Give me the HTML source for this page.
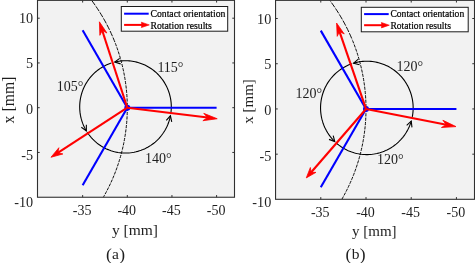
<!DOCTYPE html>
<html><head><meta charset="utf-8"><title>Contact orientation and rotation results</title>
<style>
html,body{margin:0;padding:0;background:#fff;}
body{width:475px;height:263px;overflow:hidden;}
svg{display:block;font-family:"Liberation Serif","Times New Roman",serif;}
</style></head><body>
<svg width="475" height="263" viewBox="0 0 475 263">
<rect width="475" height="263" fill="#fff"/>
<clipPath id="clipa"><rect x="37.5" y="0.35" width="197" height="196.9"/></clipPath>
<rect x="37.5" y="0.35" width="197" height="196.9" fill="#f2f2f2"/>
<clipPath id="clipTa"><rect x="37.5" y="0.35" width="197" height="39.65"/></clipPath>
<clipPath id="clipBa"><rect x="37.5" y="40" width="197" height="157.25"/></clipPath>
<ellipse cx="-51.3" cy="107.7" rx="178.6" ry="179" fill="none" stroke="#000" stroke-width="0.95" stroke-dasharray="5.8 1.3" clip-path="url(#clipTa)"/>
<ellipse cx="-51.3" cy="107.7" rx="178.6" ry="179" fill="none" stroke="#000" stroke-width="0.95" stroke-dasharray="3.2 1.15" clip-path="url(#clipBa)"/>
<polyline points="170.96,112.52 171.11,111.05 171.22,109.57 171.28,108.08 171.3,106.6 171.27,105.11 171.19,103.63 171.06,102.15 170.88,100.68 170.66,99.21 170.39,97.75 170.08,96.3 169.71,94.86 169.31,93.44 168.85,92.02 168.36,90.62 167.82,89.24 167.23,87.88 166.6,86.54 165.93,85.22 165.22,83.92 164.46,82.64 163.67,81.39 162.83,80.17 161.96,78.97 161.05,77.8 160.1,76.67 159.12,75.56 158.1,74.49 157.05,73.45 155.97,72.44 154.85,71.47 153.71,70.54 152.53,69.64 151.33,68.79 150.1,67.97 148.84,67.19 147.56,66.46 146.26,65.76 144.94,65.11 143.59,64.5 142.23,63.94 140.85,63.42 139.45,62.94 138.04,62.51 136.62,62.13 135.18,61.79 133.74,61.5 132.29,61.26 130.82,61.06 129.36,60.91 127.89,60.81 126.42,60.76 124.94,60.75 123.47,60.8 122,60.88 120.53,61.02 119.07,61.21 117.62,61.44 116.17,61.72 114.73,62.04" fill="none" stroke="#000" stroke-width="1.1"/>
<polyline points="120.65,63.89 114.73,62.04 119.7,58.34" fill="none" stroke="#000" stroke-width="1.1" stroke-linejoin="miter"/>
<polyline points="111.35,63.01 110.04,63.46 108.76,63.94 107.48,64.47 106.23,65.04 104.99,65.64 103.77,66.28 102.56,66.95 101.38,67.67 100.22,68.41 99.09,69.2 97.98,70.01 96.89,70.86 95.83,71.75 94.79,72.66 93.79,73.6 92.81,74.58 91.86,75.58 90.94,76.62 90.05,77.68 89.2,78.76 88.37,79.87 87.59,81.01 86.83,82.17 86.11,83.35 85.43,84.56 84.78,85.78 84.17,87.02 83.59,88.28 83.06,89.56 82.56,90.85 82.1,92.16 81.68,93.48 81.3,94.81 80.96,96.16 80.66,97.51 80.4,98.87 80.18,100.24 80,101.61 79.86,102.99 79.77,104.38 79.71,105.76 79.7,107.15 79.73,108.54 79.8,109.92 79.91,111.3 80.06,112.68 80.25,114.05 80.49,115.42 80.76,116.78 81.08,118.13 81.43,119.47 81.83,120.8 82.26,122.11 82.73,123.42 83.25,124.7 83.8,125.97 84.38,127.23 85.01,128.46 85.67,129.68 86.37,130.88" fill="none" stroke="#000" stroke-width="1.1"/>
<polyline points="86.35,124.68 86.37,130.88 81.34,127.24" fill="none" stroke="#000" stroke-width="1.1" stroke-linejoin="miter"/>
<polyline points="87.09,132.04 88.1,133.55 89.18,135.01 90.31,136.44 91.5,137.82 92.74,139.15 94.03,140.43 95.37,141.65 96.75,142.83 98.18,143.94 99.66,145 101.17,146 102.72,146.94 104.31,147.82 105.93,148.63 107.59,149.37 109.27,150.05 110.97,150.67 112.7,151.21 114.45,151.69 116.21,152.09 117.99,152.43 119.78,152.69 121.58,152.88 123.39,153 125.2,153.05 127.01,153.02 128.82,152.93 130.62,152.76 132.42,152.52 134.2,152.21 135.97,151.83 137.72,151.38 139.46,150.85 141.17,150.26 142.86,149.61 144.52,148.88 146.15,148.09 147.75,147.24 149.32,146.32 150.85,145.34 152.33,144.3 153.78,143.2 155.18,142.05 156.54,140.84 157.84,139.58 159.1,138.26 160.3,136.9 161.45,135.49 162.55,134.04 163.58,132.54 164.56,131 165.47,129.43 166.32,127.82 167.11,126.18 167.84,124.51 168.49,122.81 169.08,121.08 169.61,119.33 170.06,117.57 170.44,115.78" fill="none" stroke="#000" stroke-width="1.1"/>
<polyline points="166.29,120.39 170.44,115.78 171.73,121.85" fill="none" stroke="#000" stroke-width="1.1" stroke-linejoin="miter"/>
<line x1="127.3" y1="107.7" x2="216.6" y2="107.7" stroke="#0000ff" stroke-width="2.1" stroke-linecap="butt"/>
<line x1="127.3" y1="107.7" x2="82.65" y2="30.19" stroke="#0000ff" stroke-width="2.1" stroke-linecap="butt"/>
<line x1="127.3" y1="107.7" x2="82.65" y2="185.21" stroke="#0000ff" stroke-width="2.1" stroke-linecap="butt"/>
<circle cx="127.3" cy="107.7" r="3" fill="#0000ff"/>
<line x1="127.3" y1="107.7" x2="207.69" y2="117.57" stroke="#ff0000" stroke-width="2.1"/>
<polygon points="217.22,118.74 202.88,120.71 207.5,117.55 203.78,113.36" fill="#ff0000" stroke="#ff0000" stroke-width="0.8" stroke-linejoin="miter"/>
<line x1="127.3" y1="107.7" x2="102.15" y2="30.3" stroke="#ff0000" stroke-width="2.1"/>
<polygon points="99.4,21.82 106.93,33.04 102.21,30.47 99.89,35.33" fill="#ff0000" stroke="#ff0000" stroke-width="0.8" stroke-linejoin="miter"/>
<line x1="127.3" y1="107.7" x2="57.77" y2="152.85" stroke="#ff0000" stroke-width="2.1"/>
<polygon points="50.98,157.26 58.86,147.73 57.91,152.76 62.89,153.94" fill="#ff0000" stroke="#ff0000" stroke-width="0.8" stroke-linejoin="miter"/>
<rect x="37.5" y="0.35" width="197" height="196.9" fill="none" stroke="#303030" stroke-width="1.1"/>
<line x1="82.65" y1="197.25" x2="82.65" y2="195.05" stroke="#303030" stroke-width="1"/>
<line x1="82.65" y1="0.35" x2="82.65" y2="2.55" stroke="#303030" stroke-width="1"/>
<text x="82.15" y="215.3" font-size="14" text-anchor="middle" fill="#1e1e1e">-35</text>
<line x1="127.3" y1="197.25" x2="127.3" y2="195.05" stroke="#303030" stroke-width="1"/>
<line x1="127.3" y1="0.35" x2="127.3" y2="2.55" stroke="#303030" stroke-width="1"/>
<text x="126.8" y="215.3" font-size="14" text-anchor="middle" fill="#1e1e1e">-40</text>
<line x1="171.95" y1="197.25" x2="171.95" y2="195.05" stroke="#303030" stroke-width="1"/>
<line x1="171.95" y1="0.35" x2="171.95" y2="2.55" stroke="#303030" stroke-width="1"/>
<text x="171.45" y="215.3" font-size="14" text-anchor="middle" fill="#1e1e1e">-45</text>
<line x1="216.6" y1="197.25" x2="216.6" y2="195.05" stroke="#303030" stroke-width="1"/>
<line x1="216.6" y1="0.35" x2="216.6" y2="2.55" stroke="#303030" stroke-width="1"/>
<text x="216.1" y="215.3" font-size="14" text-anchor="middle" fill="#1e1e1e">-50</text>
<line x1="37.5" y1="18.2" x2="39.7" y2="18.2" stroke="#303030" stroke-width="1"/>
<line x1="234.5" y1="18.2" x2="232.3" y2="18.2" stroke="#303030" stroke-width="1"/>
<text x="33.2" y="22.5" font-size="14.2" text-anchor="end" fill="#1e1e1e">10</text>
<line x1="37.5" y1="62.95" x2="39.7" y2="62.95" stroke="#303030" stroke-width="1"/>
<line x1="234.5" y1="62.95" x2="232.3" y2="62.95" stroke="#303030" stroke-width="1"/>
<text x="33.2" y="67.55" font-size="14.2" text-anchor="end" fill="#1e1e1e">5</text>
<line x1="37.5" y1="107.7" x2="39.7" y2="107.7" stroke="#303030" stroke-width="1"/>
<line x1="234.5" y1="107.7" x2="232.3" y2="107.7" stroke="#303030" stroke-width="1"/>
<text x="33.2" y="113.85" font-size="14.2" text-anchor="end" fill="#1e1e1e">0</text>
<line x1="37.5" y1="152.45" x2="39.7" y2="152.45" stroke="#303030" stroke-width="1"/>
<line x1="234.5" y1="152.45" x2="232.3" y2="152.45" stroke="#303030" stroke-width="1"/>
<text x="33.2" y="160.15" font-size="14.2" text-anchor="end" fill="#1e1e1e">-5</text>
<text x="33.2" y="206.55" font-size="14.2" text-anchor="end" fill="#1e1e1e">-10</text>
<text x="135" y="235" font-size="15.5" text-anchor="middle" fill="#1e1e1e">y [mm]</text>
<text transform="translate(13.9,100) rotate(-90)" font-size="15.8" text-anchor="middle" fill="#1e1e1e">x [mm]</text>
<text x="115.5" y="258.8" font-size="15.5" text-anchor="middle" fill="#1e1e1e"><tspan font-size="17.5" dy="0.7">(</tspan><tspan dy="-0.7" dx="0.3">a</tspan><tspan font-size="17.5" dy="0.7" dx="0.3">)</tspan></text>
<text x="157.4" y="72.3" font-size="14" fill="#1e1e1e">115°</text>
<text x="56.8" y="90.6" font-size="14" fill="#1e1e1e">105°</text>
<text x="145" y="162.7" font-size="14" fill="#1e1e1e">140°</text>
<rect x="121.3" y="6.5" width="106.4" height="24.7" fill="#fff" stroke="#1a1a1a" stroke-width="1"/>
<line x1="124.1" y1="13.7" x2="148.7" y2="13.7" stroke="#0000ff" stroke-width="2"/>
<line x1="124.1" y1="24.9" x2="142.3" y2="24.9" stroke="#ff0000" stroke-width="2"/>
<polygon points="149.3,24.9 141.4,22.2 141.8,24.9 141.4,27.6" fill="#ff0000" stroke="#ff0000" stroke-width="0.6"/>
<text x="150.4" y="16.8" font-size="9.75" fill="#000" stroke="#000" stroke-width="0.2">Contact orientation</text>
<text x="150.4" y="29.1" font-size="9.75" fill="#000" stroke="#000" stroke-width="0.2">Rotation results</text>
<clipPath id="clipb"><rect x="275.55" y="0.35" width="198.95" height="198.95"/></clipPath>
<rect x="275.55" y="0.35" width="198.95" height="198.95" fill="#f2f2f2"/>
<clipPath id="clipTb"><rect x="275.55" y="0.35" width="198.95" height="39.65"/></clipPath>
<clipPath id="clipBb"><rect x="275.55" y="40" width="198.95" height="159.3"/></clipPath>
<ellipse cx="185.14" cy="108.95" rx="180.86" ry="180.9" fill="none" stroke="#000" stroke-width="0.95" stroke-dasharray="5.8 1.3" clip-path="url(#clipTb)"/>
<ellipse cx="185.14" cy="108.95" rx="180.86" ry="180.9" fill="none" stroke="#000" stroke-width="0.95" stroke-dasharray="3.2 1.15" clip-path="url(#clipBb)"/>
<polyline points="412.28,116.89 412.56,115.32 412.79,113.73 412.96,112.14 413.08,110.54 413.14,108.95 413.15,107.35 413.1,105.75 413,104.15 412.85,102.56 412.64,100.97 412.38,99.39 412.06,97.82 411.69,96.27 411.27,94.73 410.8,93.2 410.27,91.69 409.69,90.2 409.07,88.73 408.39,87.28 407.67,85.86 406.89,84.46 406.07,83.09 405.21,81.75 404.3,80.44 403.34,79.16 402.35,77.92 401.31,76.71 400.23,75.53 399.11,74.4 397.95,73.3 396.76,72.25 395.53,71.24 394.27,70.27 392.97,69.34 391.65,68.46 390.29,67.63 388.91,66.84 387.5,66.1 386.07,65.41 384.62,64.78 383.14,64.19 381.65,63.65 380.14,63.16 378.61,62.73 377.07,62.35 375.52,62.03 373.95,61.75 372.38,61.53 370.8,61.37 369.22,61.26 367.63,61.21 366.05,61.21 364.46,61.26 362.88,61.37 361.3,61.54 359.73,61.76 358.17,62.03 356.61,62.36 355.07,62.74 353.55,63.17" fill="none" stroke="#000" stroke-width="1.1"/>
<polyline points="359.56,64.69 353.55,63.17 358.31,59.2" fill="none" stroke="#000" stroke-width="1.1" stroke-linejoin="miter"/>
<polyline points="351.85,63.72 350.37,64.26 348.9,64.85 347.46,65.49 346.03,66.19 344.63,66.93 343.26,67.72 341.92,68.55 340.6,69.43 339.31,70.36 338.06,71.33 336.84,72.34 335.65,73.39 334.5,74.49 333.39,75.62 332.32,76.79 331.29,77.99 330.3,79.24 329.35,80.51 328.45,81.82 327.59,83.15 326.77,84.52 326,85.91 325.28,87.33 324.61,88.77 323.99,90.24 323.42,91.72 322.9,93.22 322.42,94.75 322.01,96.28 321.64,97.83 321.32,99.39 321.06,100.97 320.86,102.54 320.7,104.13 320.6,105.72 320.55,107.31 320.56,108.91 320.62,110.5 320.74,112.09 320.91,113.67 321.13,115.25 321.4,116.82 321.73,118.38 322.11,119.92 322.54,121.46 323.03,122.97 323.56,124.47 324.15,125.95 324.78,127.41 325.47,128.85 326.2,130.26 326.98,131.64 327.81,133 328.68,134.33 329.6,135.63 330.55,136.89 331.56,138.13 332.6,139.32 333.68,140.48 334.8,141.61" fill="none" stroke="#000" stroke-width="1.1"/>
<polyline points="333.2,135.62 334.8,141.61 329.02,139.38" fill="none" stroke="#000" stroke-width="1.1" stroke-linejoin="miter"/>
<polyline points="336.54,143.2 337.72,144.2 338.93,145.15 340.17,146.07 341.45,146.94 342.75,147.77 344.08,148.56 345.43,149.3 346.81,150 348.21,150.65 349.63,151.25 351.07,151.8 352.53,152.31 354,152.77 355.49,153.17 356.99,153.53 358.5,153.83 360.02,154.09 361.54,154.29 363.08,154.44 364.62,154.55 366.16,154.59 367.7,154.59 369.24,154.54 370.77,154.43 372.31,154.27 373.83,154.07 375.35,153.81 376.86,153.5 378.36,153.13 379.84,152.72 381.32,152.26 382.77,151.75 384.21,151.19 385.63,150.59 387.03,149.93 388.4,149.23 389.75,148.49 391.08,147.7 392.38,146.86 393.65,145.98 394.89,145.06 396.1,144.1 397.28,143.1 398.42,142.06 399.53,140.98 400.6,139.86 401.64,138.71 402.64,137.53 403.6,136.31 404.51,135.06 405.39,133.78 406.22,132.48 407.01,131.14 407.75,129.78 408.45,128.4 409.11,126.99 409.71,125.56 410.27,124.11 410.78,122.65 411.24,121.16" fill="none" stroke="#000" stroke-width="1.1"/>
<polyline points="406.68,125.36 411.24,121.16 411.96,127.32" fill="none" stroke="#000" stroke-width="1.1" stroke-linejoin="miter"/>
<line x1="366" y1="108.95" x2="456.43" y2="108.95" stroke="#0000ff" stroke-width="2.1" stroke-linecap="butt"/>
<line x1="366" y1="108.95" x2="320.79" y2="30.62" stroke="#0000ff" stroke-width="2.1" stroke-linecap="butt"/>
<line x1="366" y1="108.95" x2="320.78" y2="187.28" stroke="#0000ff" stroke-width="2.1" stroke-linecap="butt"/>
<circle cx="366" cy="108.95" r="3" fill="#0000ff"/>
<line x1="366" y1="108.95" x2="446.49" y2="124.74" stroke="#ff0000" stroke-width="2.1"/>
<polygon points="455.98,126.6 441.44,127.52 446.3,124.7 442.86,120.26" fill="#ff0000" stroke="#ff0000" stroke-width="0.8" stroke-linejoin="miter"/>
<line x1="366" y1="108.95" x2="339.43" y2="31.35" stroke="#ff0000" stroke-width="2.1"/>
<polygon points="336.59,23.05 344.23,33.96 339.49,31.52 337.23,36.35" fill="#ff0000" stroke="#ff0000" stroke-width="0.8" stroke-linejoin="miter"/>
<line x1="366" y1="108.95" x2="311" y2="172.44" stroke="#ff0000" stroke-width="2.1"/>
<polygon points="306.29,177.88 310.37,167.52 311.1,172.33 315.96,172.37" fill="#ff0000" stroke="#ff0000" stroke-width="0.8" stroke-linejoin="miter"/>
<rect x="275.55" y="0.35" width="198.95" height="198.95" fill="none" stroke="#303030" stroke-width="1.1"/>
<line x1="320.79" y1="199.3" x2="320.79" y2="197.1" stroke="#303030" stroke-width="1"/>
<line x1="320.79" y1="0.35" x2="320.79" y2="2.55" stroke="#303030" stroke-width="1"/>
<text x="320.29" y="217.3" font-size="14" text-anchor="middle" fill="#1e1e1e">-35</text>
<line x1="366" y1="199.3" x2="366" y2="197.1" stroke="#303030" stroke-width="1"/>
<line x1="366" y1="0.35" x2="366" y2="2.55" stroke="#303030" stroke-width="1"/>
<text x="365.5" y="217.3" font-size="14" text-anchor="middle" fill="#1e1e1e">-40</text>
<line x1="411.21" y1="199.3" x2="411.21" y2="197.1" stroke="#303030" stroke-width="1"/>
<line x1="411.21" y1="0.35" x2="411.21" y2="2.55" stroke="#303030" stroke-width="1"/>
<text x="410.71" y="217.3" font-size="14" text-anchor="middle" fill="#1e1e1e">-45</text>
<line x1="456.43" y1="199.3" x2="456.43" y2="197.1" stroke="#303030" stroke-width="1"/>
<line x1="456.43" y1="0.35" x2="456.43" y2="2.55" stroke="#303030" stroke-width="1"/>
<text x="455.93" y="217.3" font-size="14" text-anchor="middle" fill="#1e1e1e">-50</text>
<line x1="275.55" y1="18.5" x2="277.75" y2="18.5" stroke="#303030" stroke-width="1"/>
<line x1="474.5" y1="18.5" x2="472.3" y2="18.5" stroke="#303030" stroke-width="1"/>
<text x="271.25" y="23.55" font-size="14.2" text-anchor="end" fill="#1e1e1e">10</text>
<line x1="275.55" y1="63.73" x2="277.75" y2="63.73" stroke="#303030" stroke-width="1"/>
<line x1="474.5" y1="63.73" x2="472.3" y2="63.73" stroke="#303030" stroke-width="1"/>
<text x="271.25" y="68.72" font-size="14.2" text-anchor="end" fill="#1e1e1e">5</text>
<line x1="275.55" y1="108.95" x2="277.75" y2="108.95" stroke="#303030" stroke-width="1"/>
<line x1="474.5" y1="108.95" x2="472.3" y2="108.95" stroke="#303030" stroke-width="1"/>
<text x="271.25" y="114.9" font-size="14.2" text-anchor="end" fill="#1e1e1e">0</text>
<line x1="275.55" y1="154.18" x2="277.75" y2="154.18" stroke="#303030" stroke-width="1"/>
<line x1="474.5" y1="154.18" x2="472.3" y2="154.18" stroke="#303030" stroke-width="1"/>
<text x="271.25" y="160.95" font-size="14.2" text-anchor="end" fill="#1e1e1e">-5</text>
<text x="271.25" y="207.05" font-size="14.2" text-anchor="end" fill="#1e1e1e">-10</text>
<text x="374.3" y="235.9" font-size="15" text-anchor="middle" fill="#1e1e1e">y [mm]</text>
<text transform="translate(253.2,101.5) rotate(-90)" font-size="15" text-anchor="middle" fill="#1e1e1e">x [mm]</text>
<text x="355.6" y="258.8" font-size="15.5" text-anchor="middle" fill="#1e1e1e"><tspan font-size="17.5" dy="0.7">(</tspan><tspan dy="-0.7" dx="0.3">b</tspan><tspan font-size="17.5" dy="0.7" dx="0.3">)</tspan></text>
<text x="396.5" y="71.2" font-size="14" fill="#1e1e1e">120°</text>
<text x="295.5" y="97.5" font-size="14" fill="#1e1e1e">120°</text>
<text x="377.1" y="164.2" font-size="14" fill="#1e1e1e">120°</text>
<rect x="361.3" y="7.3" width="106.9" height="24.5" fill="#fff" stroke="#1a1a1a" stroke-width="1"/>
<line x1="364.1" y1="14.1" x2="388.7" y2="14.1" stroke="#0000ff" stroke-width="2"/>
<line x1="364.1" y1="25.2" x2="382.3" y2="25.2" stroke="#ff0000" stroke-width="2"/>
<polygon points="389.3,25.2 381.4,22.5 381.8,25.2 381.4,27.9" fill="#ff0000" stroke="#ff0000" stroke-width="0.6"/>
<text x="390.4" y="17.2" font-size="9.6" fill="#000" stroke="#000" stroke-width="0.2">Contact orientation</text>
<text x="390.4" y="29.4" font-size="9.6" fill="#000" stroke="#000" stroke-width="0.2">Rotation results</text>
</svg>
</body></html>
